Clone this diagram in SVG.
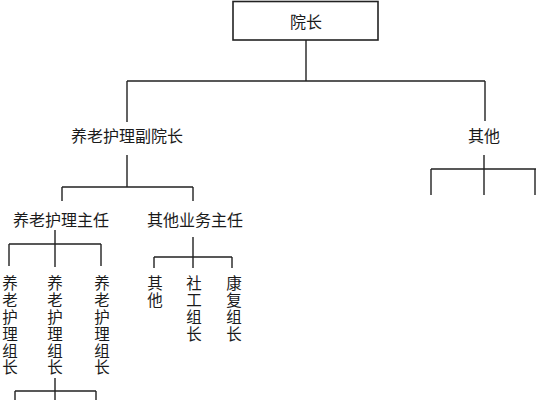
<svg xmlns="http://www.w3.org/2000/svg" width="536" height="400" viewBox="0 0 536 400">
<style>
.t{font-family:"Noto Sans CJK SC","Noto Sans CJK JP",sans-serif;font-size:16px;fill:#1a1a1a;text-anchor:middle;dominant-baseline:central}
.v{font-size:15.5px}
.c{stroke:#222;stroke-width:1.4;fill:none}
</style>
<rect width="536" height="400" fill="#fff"/>
<g id="connectors" class="c">
<path d="M306 40V81M127 81H485M127 81V122M485 81V121"/>
<path d="M127 155V187M62 187H193M62 187V201M193 187V201"/>
<path d="M55 230V267M9 244H101M9 244V266M101 244V266"/>
<path d="M193 237V268M154 257H232M154 257V268M232 257V268"/>
<path d="M55 378V400M15 391H96M15 391V400M96 391V400"/>
<path d="M484 155V195M431 169H536M431 169V195M535 169V195"/>
</g>
<g id="n-yuanzhang"><rect x="233" y="1.5" width="145" height="38.5" fill="#fff" stroke="#222" stroke-width="1.6"/><text class="t" x="306" y="21">院长</text></g>
<g id="n-fuyuanzhang"><text class="t" x="127" y="135">养老护理副院长</text></g>
<g id="n-qita1"><text class="t" x="484" y="135">其他</text></g>
<g id="n-zhuren1"><text class="t" x="61" y="219">养老护理主任</text></g>
<g id="n-zhuren2"><text class="t" x="195" y="219">其他业务主任</text></g>
<g id="n-zuzhang1" class="t v"><text x="10" y="282">养</text><text x="10" y="299">老</text><text x="10" y="316">护</text><text x="10" y="333">理</text><text x="10" y="350">组</text><text x="10" y="366">长</text></g>
<g id="n-zuzhang2" class="t v"><text x="55" y="282">养</text><text x="55" y="299">老</text><text x="55" y="316">护</text><text x="55" y="333">理</text><text x="55" y="350">组</text><text x="55" y="366">长</text></g>
<g id="n-zuzhang3" class="t v"><text x="102" y="282">养</text><text x="102" y="299">老</text><text x="102" y="316">护</text><text x="102" y="333">理</text><text x="102" y="350">组</text><text x="102" y="366">长</text></g>
<g id="n-qita2" class="t v"><text x="155" y="282">其</text><text x="155" y="299">他</text></g>
<g id="n-shegong" class="t v"><text x="194" y="282">社</text><text x="194" y="299">工</text><text x="194" y="316">组</text><text x="194" y="333">长</text></g>
<g id="n-kangfu" class="t v"><text x="234" y="282">康</text><text x="234" y="299">复</text><text x="234" y="316">组</text><text x="234" y="333">长</text></g>
</svg>
